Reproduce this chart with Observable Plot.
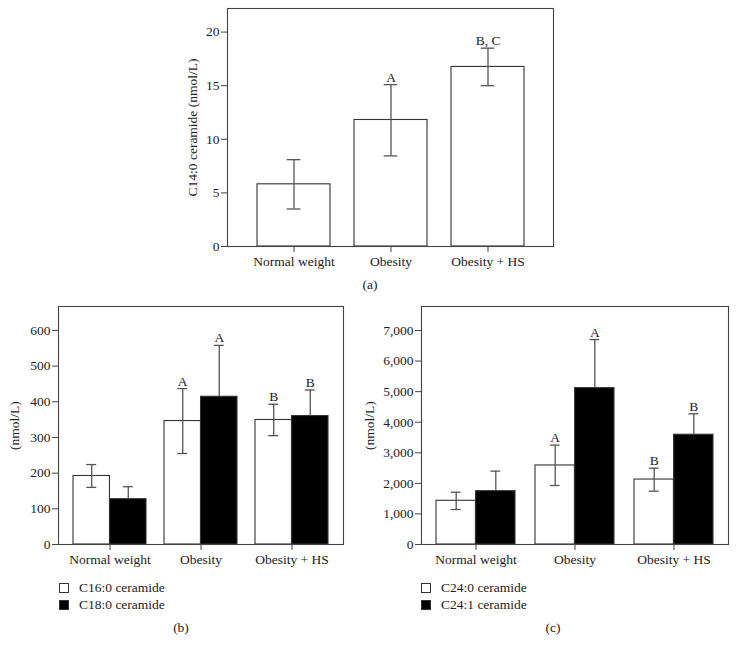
<!DOCTYPE html>
<html><head><meta charset="utf-8">
<script src="https://cdn.jsdelivr.net/npm/d3@7"></script>
<script src="https://cdn.jsdelivr.net/npm/@observablehq/plot@0.6"></script>
<style>
body{margin:0;background:#fff;}
#root{position:relative;width:737px;height:654px;font-family:"Liberation Serif","DejaVu Serif",serif;color:#222;overflow:hidden;}
.panel{position:absolute;}
.cap{position:absolute;font-size:13.5px;transform:translate(-50%,-50%);white-space:nowrap;}
.leg{position:absolute;font-size:13.5px;display:flex;align-items:center;height:14px;white-space:nowrap;}
.sw{width:8px;height:8px;border:1px solid #333;margin-right:10px;box-sizing:content-box;}
</style></head><body><div id="root"></div>
<script>
// ---------- data ----------
const categories = ["Normal weight", "Obesity", "Obesity + HS"];

// panel (a): C14:0 ceramide (nmol/L)
const c14Mean = [5.8, 11.8, 16.75];
const c14Lo   = [3.5, 8.45, 15.0];
const c14Hi   = [8.1, 15.1, 18.5];
const c14Sig  = ["", "A", "B, C"];

// panel (b)
const c16Mean = [192, 346, 349];
const c16Lo   = [160, 255, 305];
const c16Hi   = [224, 437, 393];
const c16Sig  = ["", "A", "B"];
const c18Mean = [127, 414, 360];
const c18Hi   = [162, 558, 433];
const c18Sig  = ["", "A", "B"];

// panel (c)
const c240Mean = [1430, 2585, 2125];
const c240Lo   = [1145, 1930, 1745];
const c240Hi   = [1711, 3250, 2497];
const c240Sig  = ["", "A", "B"];
const c241Mean = [1745, 5115, 3590];
const c241Hi   = [2400, 6705, 4275];
const c241Sig  = ["", "A", "B"];

const aTicks = [0, 5, 10, 15, 20];
const bTicks = [0, 100, 200, 300, 400, 500, 600];
const cTicks = [0, 1000, 2000, 3000, 4000, 5000, 6000, 7000];

// ---------- drawing ----------
const root = document.getElementById("root");

function rowsOf(mean, lo, hi, sig) {
  return categories.map((c, i) => ({cat: c, mean: mean[i], lo: lo ? lo[i] : mean[i], hi: hi[i], sig: sig[i]}));
}

function panel(o) {
  const innerW = o.width - o.mL - o.mR;
  const step = innerW / (categories.length - o.padIn + 2 * o.padOut);
  const bw = step * (1 - o.padIn);
  const marks = [];
  const errStroke = "#555";
  o.series.forEach(s => {
    const rows = rowsOf(s.mean, s.lo, s.hi, s.sig);
    const half = s.part === "full" ? 0 : bw / 2;
    const inL = s.part === "right" ? half : 0;
    const inR = s.part === "left" ? half : 0;
    const dx = s.part === "left" ? -bw / 4 : s.part === "right" ? bw / 4 : 0;
    const capInset = (bw - o.capW) / 2;
    marks.push(Plot.barY(rows, {x: "cat", y: "mean", fill: s.fill, stroke: "#333", strokeWidth: 1.1, insetLeft: inL, insetRight: inR}));
    marks.push(Plot.ruleX(rows, {x: "cat", y1: "lo", y2: "hi", stroke: errStroke, strokeWidth: 1.3, dx}));
    marks.push(Plot.tickY(rows, {x: "cat", y: "hi", stroke: errStroke, strokeWidth: 1.3, insetLeft: capInset, insetRight: capInset, dx}));
    if (s.lo) marks.push(Plot.tickY(rows, {x: "cat", y: "lo", stroke: errStroke, strokeWidth: 1.3, insetLeft: capInset, insetRight: capInset, dx}));
    marks.push(Plot.text(rows, {x: "cat", y: "hi", text: "sig", dx, dy: -3, lineAnchor: "bottom", fill: "#222", fontSize: 13.5}));
  });
  marks.push(Plot.frame({stroke: "#444", strokeWidth: 1.1}));
  marks.push(Plot.axisY({ticks: o.ticks, tickSize: 6, tickPadding: 2, label: null, tickFormat: o.fmt, stroke: "#444", fill: "#222"}));
  marks.push(Plot.axisX({tickSize: 6, tickPadding: 4, label: null, stroke: "#444", fill: "#222"}));
  marks.push(Plot.text([o.yLabel], {text: d => d, frameAnchor: "left", textAnchor: "middle", lineAnchor: "middle", rotate: -90, dx: o.yLabelDx, fill: "#222", fontSize: 13.5}));
  const svg = Plot.plot({
    width: o.width, height: o.height,
    marginLeft: o.mL, marginRight: o.mR, marginTop: o.mT, marginBottom: o.mB,
    style: {fontFamily: '"Liberation Serif", "DejaVu Serif", serif', fontSize: "13.5px", color: "#222", background: "transparent", overflow: "visible"},
    x: {domain: categories, paddingInner: o.padIn, paddingOuter: o.padOut, axis: null},
    y: {domain: o.yDomain, axis: null},
    marks
  });
  svg.classList.add("panel");
  svg.style.left = o.left + "px";
  svg.style.top = o.top + "px";
  root.appendChild(svg);
}

panel({left: 0, top: 0, width: 737, height: 275, mL: 227, mR: 184, mT: 8, mB: 29,
  yDomain: [0, 22.2], ticks: aTicks, fmt: d3.format("d"), yLabel: "C14:0 ceramide (nmol/L)", yLabelDx: -35,
  padIn: 0.25, padOut: 0.293, capW: 14,
  series: [{mean: c14Mean, lo: c14Lo, hi: c14Hi, sig: c14Sig, fill: "#fff", part: "full"}]});

panel({left: 0, top: 290, width: 360, height: 290, mL: 58, mR: 17, mT: 16, mB: 36,
  yDomain: [0, 667], ticks: bTicks, fmt: d3.format("d"), yLabel: "(nmol/L)", yLabelDx: -44,
  padIn: 0.2, padOut: 0.16, capW: 10,
  series: [
    {mean: c16Mean, lo: c16Lo, hi: c16Hi, sig: c16Sig, fill: "#fff", part: "left"},
    {mean: c18Mean, lo: null, hi: c18Hi, sig: c18Sig, fill: "#000", part: "right"}
  ]});

panel({left: 365, top: 290, width: 372, height: 290, mL: 56, mR: 9, mT: 16, mB: 36,
  yDomain: [0, 7785], ticks: cTicks, fmt: d3.format(","), yLabel: "(nmol/L)", yLabelDx: -52,
  padIn: 0.2, padOut: 0.15, capW: 10,
  series: [
    {mean: c240Mean, lo: c240Lo, hi: c240Hi, sig: c240Sig, fill: "#fff", part: "left"},
    {mean: c241Mean, lo: null, hi: c241Hi, sig: c241Sig, fill: "#000", part: "right"}
  ]});

function legendItem(x, yc, fill, label) {
  const d = document.createElement("div");
  d.className = "leg";
  d.style.left = x + "px";
  d.style.top = (yc - 7) + "px";
  const sw = document.createElement("span");
  sw.className = "sw";
  sw.style.background = fill;
  d.appendChild(sw);
  d.appendChild(document.createTextNode(label));
  root.appendChild(d);
}
legendItem(59, 588, "#fff", "C16:0 ceramide");
legendItem(59, 605, "#000", "C18:0 ceramide");
legendItem(421, 588, "#fff", "C24:0 ceramide");
legendItem(421, 605, "#000", "C24:1 ceramide");

function caption(x, y, t) {
  const d = document.createElement("div");
  d.className = "cap";
  d.style.left = x + "px";
  d.style.top = y + "px";
  d.textContent = t;
  root.appendChild(d);
}
caption(370, 285, "(a)");
caption(181, 628, "(b)");
caption(553, 628, "(c)");
</script>
</body></html>
